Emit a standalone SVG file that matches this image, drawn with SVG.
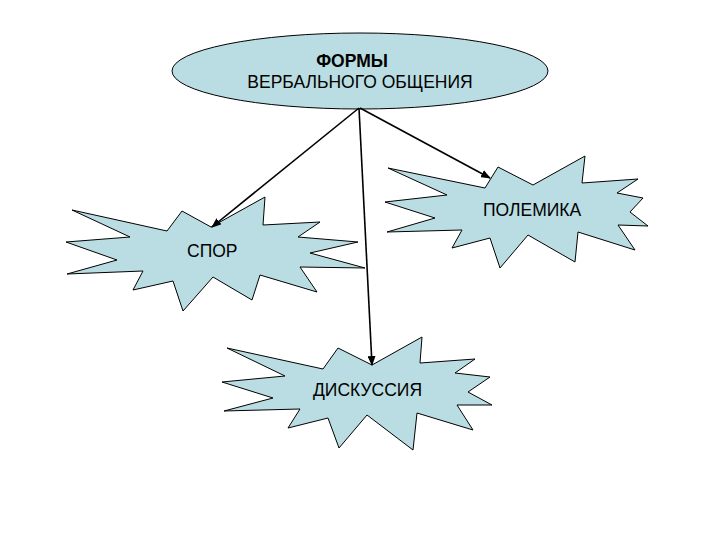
<svg xmlns="http://www.w3.org/2000/svg" width="720" height="540" viewBox="0 0 720 540">
<defs>
<style>
.shape{fill:#b9dde2;stroke:#000;stroke-width:1}
.lbl{font-family:"Liberation Sans",Arial,sans-serif;font-size:17.5px;fill:#000}
.conn{stroke:#000;stroke-width:1.6;fill:none;marker-end:url(#ah)}
</style>
<marker id="ah" markerWidth="10" markerHeight="8" refX="9" refY="4" orient="auto" markerUnits="userSpaceOnUse">
<path d="M0,0 L10,4 L0,8 z" fill="#000"/>
</marker>
</defs>
<rect width="720" height="540" fill="#fff"/>
<g id="top">
<ellipse class="shape" cx="360" cy="71" rx="188" ry="38"/>
<text class="lbl" x="352" y="67" text-anchor="middle" font-weight="bold" font-size="17.5">ФОРМЫ</text>
<text class="lbl" x="360" y="88" text-anchor="middle" font-size="14">ВЕРБАЛЬНОГО ОБЩЕНИЯ</text>
</g>
<g id="spor">
<polygon class="shape" points="72,210 167,231 182,211 211,227 265,197 263,225 320,222 298,237 358,242 310,253 365,268 300,267 317,292 260,275 252,300 213,277 183,311 173,281 133,290 143,271 67,274 117,260 66,242 130,237"/>
<text class="lbl" x="187" y="257">СПОР</text>
</g>
<g id="polemika">
<polygon class="shape" points="388,168 485,188 498,167 533,185 585,156 582,183 638,179 617,193 643,198 630,212 648,226 618,225 635,250 578,232 575,262 528,235 500,268 490,238 452,248 462,230 387,232 435,218 385,202 447,195"/>
<text class="lbl" x="483" y="216">ПОЛЕМИКА</text>
</g>
<g id="diskussia">
<polygon class="shape" points="227,348 323,369 338,348 372,365 422,337 420,363 475,359 455,373 490,377 468,392 492,405 457,405 473,430 417,413 413,450 367,415 339,448 328,418 288,428 300,409 224,411 273,398 222,382 285,376"/>
<text class="lbl" x="313" y="396">ДИСКУССИЯ</text>
</g>
<g id="connectors">
<line class="conn" x1="359" y1="108" x2="212" y2="227"/>
<line class="conn" x1="359" y1="108" x2="372" y2="365"/>
<line class="conn" x1="360" y1="108" x2="490" y2="178"/>
</g>
</svg>
